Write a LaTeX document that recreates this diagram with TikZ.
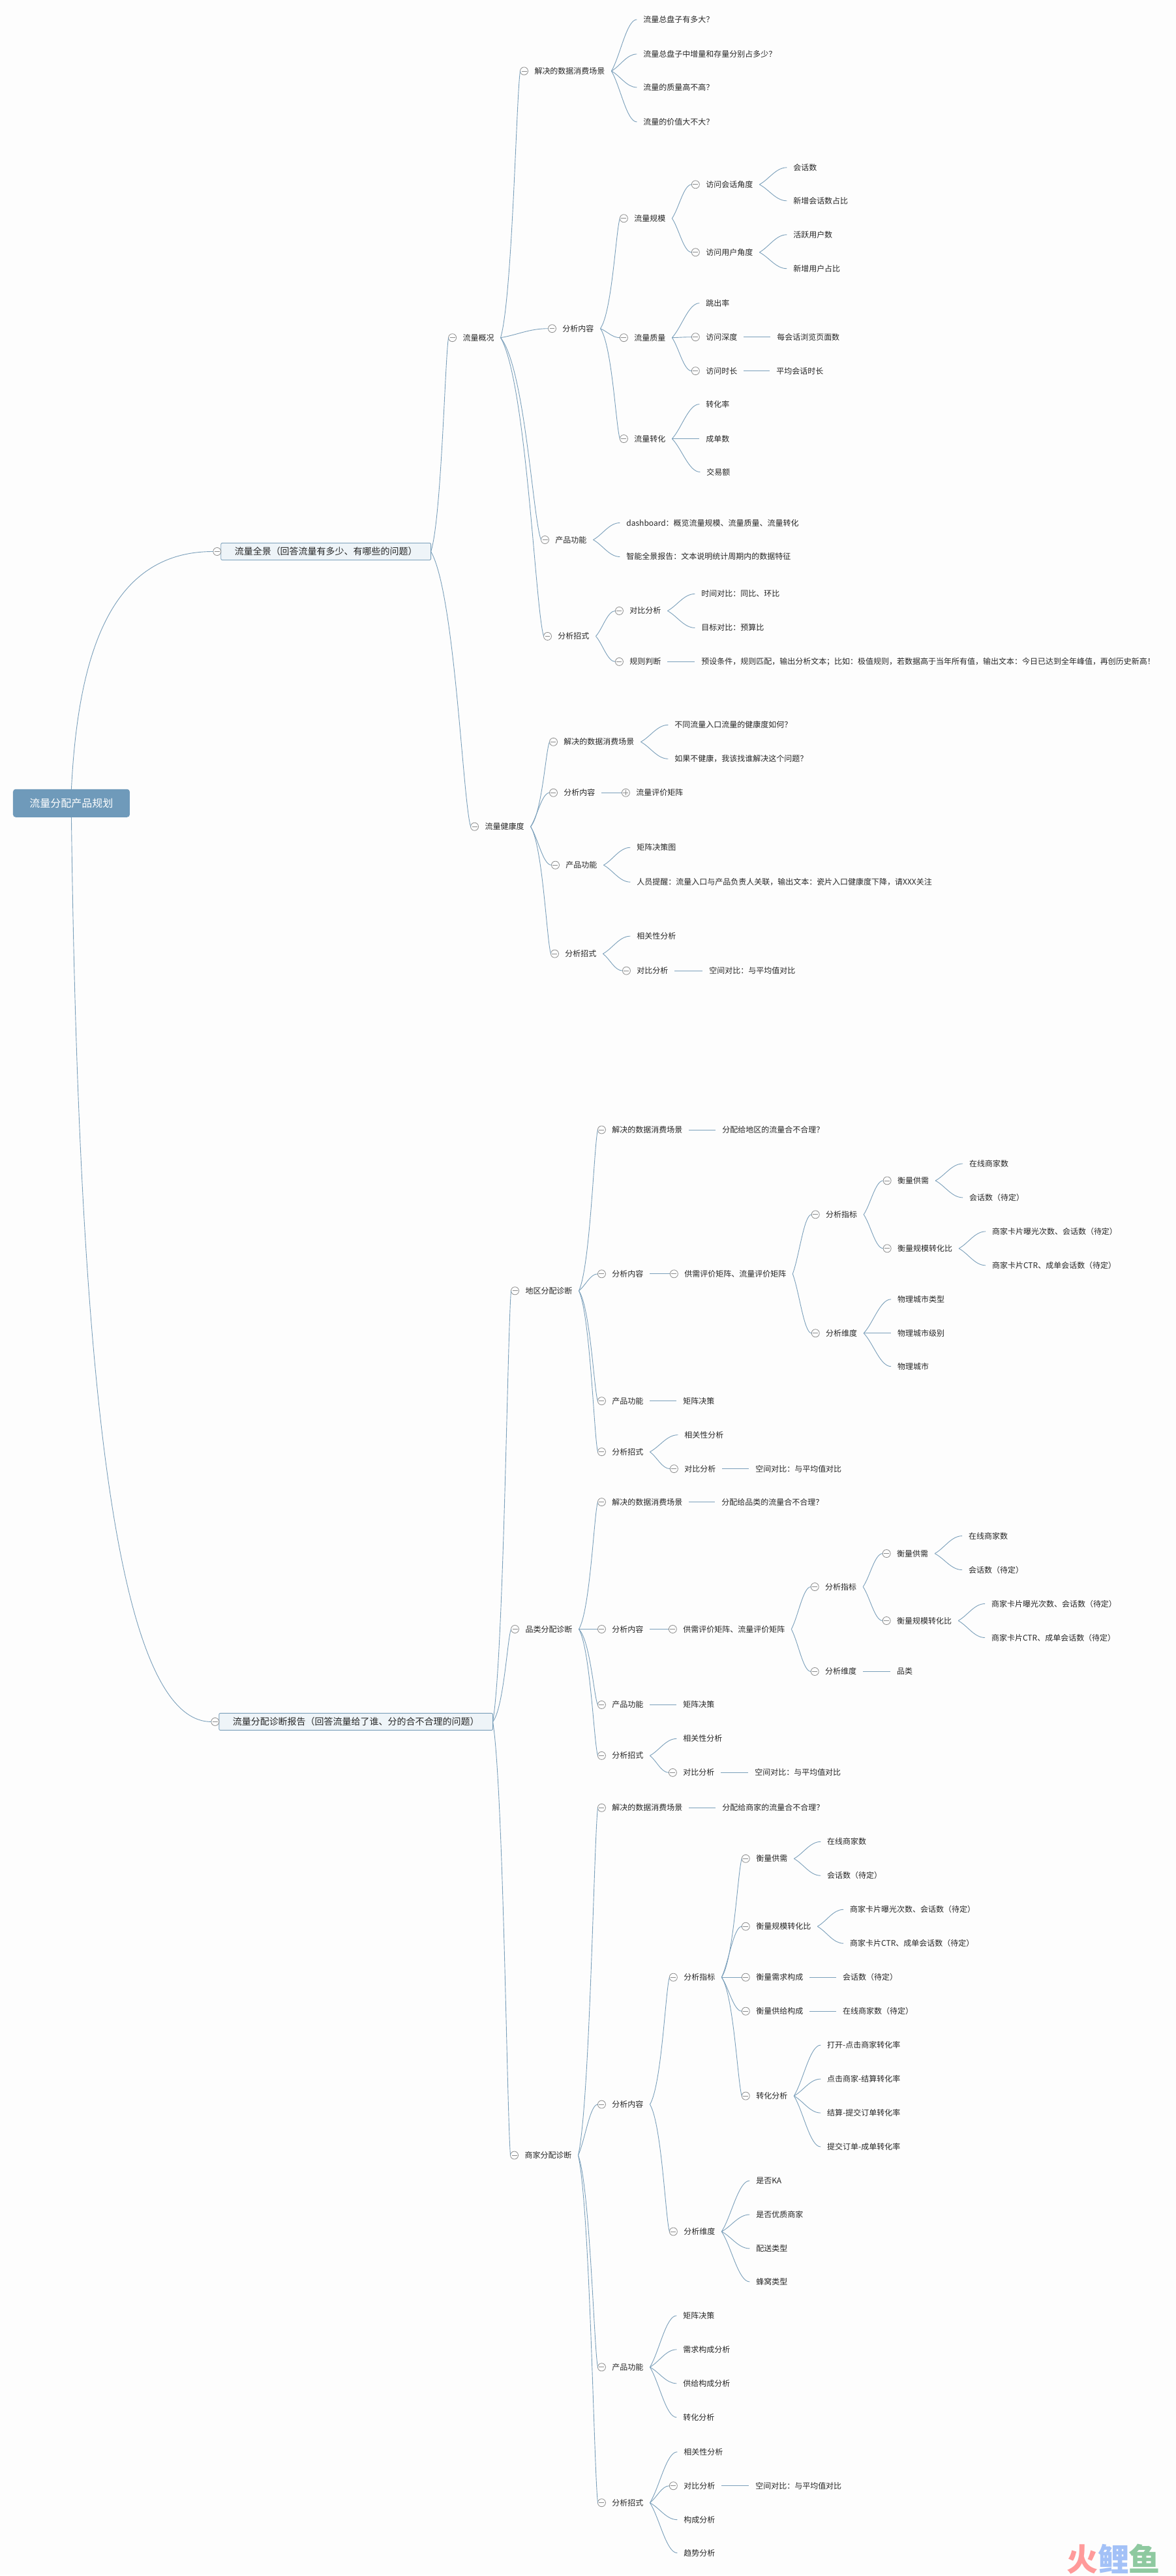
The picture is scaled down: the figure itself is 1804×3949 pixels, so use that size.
\documentclass[tikz,border=0pt]{standalone}
\usepackage{fontspec}
\setmainfont{Noto Sans CJK SC}
\usepackage{tikz}
\usetikzlibrary{calc, positioning}
\newcommand{\zhq}{\symbol{"FF1F}}
\newcommand{\zhc}{\symbol{"FF0C}}
\newcommand{\zhd}{\symbol{"FF1A}}
\newcommand{\zhs}{\symbol{"FF1B}}
\newcommand{\zhe}{\symbol{"FF01}}
\newcommand{\zhl}{\symbol{"FF08}}
\newcommand{\zhr}{\symbol{"FF09}}
\definecolor{pagebg}{HTML}{FDFDFD}
\definecolor{linkblue}{HTML}{7A9FBA}
\definecolor{rootblue}{HTML}{6F9ABA}
\definecolor{boxfill}{HTML}{EEF4F8}
\definecolor{inkgrey}{HTML}{262626}
\definecolor{foldgrey}{HTML}{8C8C8C}
\definecolor{logored}{HTML}{FF9A9A}
\definecolor{logoblue}{HTML}{A3C1F7}
\definecolor{logogreen}{HTML}{8EC9A0}

\begin{document}
\begin{tikzpicture}[x=1pt, y=-1pt, outer sep=0pt]

\tikzstyle{topic}=[anchor=west,inner xsep=10pt,inner ysep=0pt,text=inkgrey,font=\fontsize{12}{12}\selectfont,text height=10.5pt,text depth=1.5pt]
\tikzstyle{bigbox}=[topic,draw=linkblue,fill=boxfill,rounded corners=2pt,inner xsep=21pt,inner ysep=6pt,font=\fontsize{14}{14}\selectfont,text height=12.2pt,text depth=1.8pt,line width=.9pt]
\tikzstyle{rootbox}=[anchor=west,fill=rootblue,rounded corners=4pt,text=white,minimum width=179pt,minimum height=43pt,inner sep=0pt,font=\fontsize{16}{16}\selectfont]
\tikzstyle{fold}=[circle,draw=foldgrey,fill=pagebg,minimum size=12pt,inner sep=0pt,line width=.8pt,path picture={\draw[foldgrey] ([xshift=2pt]path picture bounding box.west)--([xshift=-2pt]path picture bounding box.east);}]
\tikzstyle{foldplus}=[fold,path picture={\draw[foldgrey] ([xshift=2pt]path picture bounding box.west)--([xshift=-2pt]path picture bounding box.east);\draw[foldgrey] ([yshift=-2pt]path picture bounding box.north)--([yshift=2pt]path picture bounding box.south);}]
\tikzset{bendlink/.style n args={4}{draw=linkblue,line width=.9pt,to path={let \p1=(\tikztostart), \p2=($(\tikztotarget)-(\tikztostart)$) in .. controls ($(\p1)+(#1*\x2,#2*\y2)$) and ($(\p1)+(#3*\x2,#4*\y2)$) .. (\tikztotarget)}}}
\tikzstyle{link}=[bendlink={.35}{.3}{.6}{1}]
\tikzstyle{longlink}=[bendlink={.6}{.15}{.8}{.9}]
\tikzstyle{rootlink}=[bendlink={.05}{.6}{.3}{1}]

\fill[pagebg] (0,0) rectangle (1804,3949);

\node[rootbox] (root) at (20,1232) {流量分配产品规划};
\node[bigbox] (whole) at (339,846) {流量全景\zhl{}回答流量有多少、有哪些的问题\zhr{}};
\node[bigbox] (alloc) at (336,2641) {流量分配诊断报告\zhl{}回答流量给了谁、分的合不合理的问题\zhr{}};

\node[topic] (overview) at (700,518) {流量概况};
\node[topic] (ovscene) at (810,109) {解决的数据消费场景};
\node[topic] (ovq1) at (977,30) {流量总盘子有多大\zhq{}};
\node[topic] (ovq2) at (977,83) {流量总盘子中增量和存量分别占多少\zhq{}};
\node[topic] (ovq3) at (977,134) {流量的质量高不高\zhq{}};
\node[topic] (ovq4) at (977,187) {流量的价值大不大\zhq{}};
\node[topic] (ovcontent) at (853,504) {分析内容};
\node[topic] (ovsize) at (963,335) {流量规模};
\node[topic] (ovsess) at (1073,283) {访问会话角度};
\node[topic] (ovsess1) at (1207,257) {会话数};
\node[topic] (ovsess2) at (1207,308) {新增会话数占比};
\node[topic] (ovuser) at (1073,387) {访问用户角度};
\node[topic] (ovuser1) at (1207,360) {活跃用户数};
\node[topic] (ovuser2) at (1207,412) {新增用户占比};
\node[topic] (ovqual) at (963,518) {流量质量};
\node[topic] (ovbounce) at (1073,465) {跳出率};
\node[topic] (ovdepth) at (1073,517) {访问深度};
\node[topic] (ovdepth1) at (1182,517) {每会话浏览页面数};
\node[topic] (ovtime) at (1073,569) {访问时长};
\node[topic] (ovtime1) at (1181,569) {平均会话时长};
\node[topic] (ovconv) at (963,673) {流量转化};
\node[topic] (ovconv1) at (1073,620) {转化率};
\node[topic] (ovconv2) at (1073,673) {成单数};
\node[topic] (ovconv3) at (1074,724) {交易额};
\node[topic] (ovfunc) at (842,828) {产品功能};
\node[topic] (ovfunc1) at (951,802) {dashboard\zhd{}概览流量规模、流量质量、流量转化};
\node[topic] (ovfunc2) at (951,854) {智能全景报告\zhd{}文本说明统计周期内的数据特征};
\node[topic] (ovway) at (846,976) {分析招式};
\node[topic] (ovcomp) at (956,937) {对比分析};
\node[topic] (ovcomp1) at (1066,911) {时间对比\zhd{}同比、环比};
\node[topic] (ovcomp2) at (1066,963) {目标对比\zhd{}预算比};
\node[topic] (ovrule) at (956,1015) {规则判断};
\node[topic] (ovrule1) at (1066,1015) {预设条件\zhc{}规则匹配\zhc{}输出分析文本\zhs{}比如\zhd{}极值规则\zhc{}若数据高于当年所有值\zhc{}输出文本\zhd{}今日已达到全年峰值\zhc{}再创历史新高\zhe{}};

\node[topic] (health) at (734,1268) {流量健康度};
\node[topic] (hlscene) at (855,1138) {解决的数据消费场景};
\node[topic] (hlq1) at (1025,1112) {不同流量入口流量的健康度如何\zhq{}};
\node[topic] (hlq2) at (1025,1164) {如果不健康\zhc{}我该找谁解决这个问题\zhq{}};
\node[topic] (hlcontent) at (855,1216) {分析内容};
\node[topic] (hlmatrix) at (966,1216) {流量评价矩阵};
\node[topic] (hlfunc) at (858,1327) {产品功能};
\node[topic] (hlfunc1) at (967,1300) {矩阵决策图};
\node[topic] (hlfunc2) at (967,1353) {人员提醒\zhd{}流量入口与产品负责人关联\zhc{}输出文本\zhd{}瓷片入口健康度下降\zhc{}请XXX关注};
\node[topic] (hlway) at (857,1463) {分析招式};
\node[topic] (hlway1) at (967,1436) {相关性分析};
\node[topic] (hlcomp) at (967,1489) {对比分析};
\node[topic] (hlcomp1) at (1078,1489) {空间对比\zhd{}与平均值对比};

\node[topic] (region) at (796,1980) {地区分配诊断};
\node[topic] (rgscene) at (929,1733) {解决的数据消费场景};
\node[topic] (rgscene1) at (1098,1733) {分配给地区的流量合不合理\zhq{}};
\node[topic] (rgcontent) at (929,1954) {分析内容};
\node[topic] (rgmatrix) at (1040,1954) {供需评价矩阵、流量评价矩阵};
\node[topic] (rgindex) at (1257,1863) {分析指标};
\node[topic] (rgsupply) at (1367,1811) {衡量供需};
\node[topic] (rgsupply1) at (1477,1785) {在线商家数};
\node[topic] (rgsupply2) at (1477,1837) {会话数\zhl{}待定\zhr{}};
\node[topic] (rgscale) at (1367,1915) {衡量规模转化比};
\node[topic] (rgscale1) at (1512,1889) {商家卡片曝光次数、会话数\zhl{}待定\zhr{}};
\node[topic] (rgscale2) at (1512,1941) {商家卡片CTR、成单会话数\zhl{}待定\zhr{}};
\node[topic] (rgdim) at (1257,2045) {分析维度};
\node[topic] (rgdim1) at (1367,1993) {物理城市类型};
\node[topic] (rgdim2) at (1367,2045) {物理城市级别};
\node[topic] (rgdim3) at (1367,2096) {物理城市};
\node[topic] (rgfunc) at (929,2149) {产品功能};
\node[topic] (rgfunc1) at (1038,2149) {矩阵决策};
\node[topic] (rgway) at (929,2227) {分析招式};
\node[topic] (rgway1) at (1040,2201) {相关性分析};
\node[topic] (rgcomp) at (1040,2253) {对比分析};
\node[topic] (rgcomp1) at (1149,2253) {空间对比\zhd{}与平均值对比};

\node[topic] (category) at (796,2499) {品类分配诊断};
\node[topic] (ctscene) at (929,2304) {解决的数据消费场景};
\node[topic] (ctscene1) at (1097,2304) {分配给品类的流量合不合理\zhq{}};
\node[topic] (ctcontent) at (929,2499) {分析内容};
\node[topic] (ctmatrix) at (1038,2499) {供需评价矩阵、流量评价矩阵};
\node[topic] (ctindex) at (1256,2434) {分析指标};
\node[topic] (ctsupply) at (1366,2383) {衡量供需};
\node[topic] (ctsupply1) at (1476,2356) {在线商家数};
\node[topic] (ctsupply2) at (1476,2408) {会话数\zhl{}待定\zhr{}};
\node[topic] (ctscale) at (1366,2486) {衡量规模转化比};
\node[topic] (ctscale1) at (1511,2460) {商家卡片曝光次数、会话数\zhl{}待定\zhr{}};
\node[topic] (ctscale2) at (1511,2512) {商家卡片CTR、成单会话数\zhl{}待定\zhr{}};
\node[topic] (ctdim) at (1256,2564) {分析维度};
\node[topic] (ctdim1) at (1366,2564) {品类};
\node[topic] (ctfunc) at (929,2615) {产品功能};
\node[topic] (ctfunc1) at (1038,2615) {矩阵决策};
\node[topic] (ctway) at (929,2693) {分析招式};
\node[topic] (ctway1) at (1038,2667) {相关性分析};
\node[topic] (ctcomp) at (1038,2719) {对比分析};
\node[topic] (ctcomp1) at (1148,2719) {空间对比\zhd{}与平均值对比};

\node[topic] (merchant) at (795,3306) {商家分配诊断};
\node[topic] (mcscene) at (929,2773) {解决的数据消费场景};
\node[topic] (mcscene1) at (1098,2773) {分配给商家的流量合不合理\zhq{}};
\node[topic] (mccontent) at (929,3228) {分析内容};
\node[topic] (mcindex) at (1039,3033) {分析指标};
\node[topic] (mcsupply) at (1150,2851) {衡量供需};
\node[topic] (mcsupply1) at (1259,2825) {在线商家数};
\node[topic] (mcsupply2) at (1259,2877) {会话数\zhl{}待定\zhr{}};
\node[topic] (mcscale) at (1150,2955) {衡量规模转化比};
\node[topic] (mcscale1) at (1294,2929) {商家卡片曝光次数、会话数\zhl{}待定\zhr{}};
\node[topic] (mcscale2) at (1294,2981) {商家卡片CTR、成单会话数\zhl{}待定\zhr{}};
\node[topic] (mcdemand) at (1150,3033) {衡量需求构成};
\node[topic] (mcdemand1) at (1283,3033) {会话数\zhl{}待定\zhr{}};
\node[topic] (mcprovide) at (1150,3085) {衡量供给构成};
\node[topic] (mcprovide1) at (1283,3085) {在线商家数\zhl{}待定\zhr{}};
\node[topic] (mcconv) at (1150,3215) {转化分析};
\node[topic] (mcconv1) at (1259,3137) {打开-点击商家转化率};
\node[topic] (mcconv2) at (1259,3189) {点击商家-结算转化率};
\node[topic] (mcconv3) at (1259,3241) {结算-提交订单转化率};
\node[topic] (mcconv4) at (1259,3293) {提交订单-成单转化率};
\node[topic] (mcdim) at (1039,3423) {分析维度};
\node[topic] (mcdim1) at (1150,3345) {是否KA};
\node[topic] (mcdim2) at (1150,3397) {是否优质商家};
\node[topic] (mcdim3) at (1150,3449) {配送类型};
\node[topic] (mcdim4) at (1150,3500) {蜂窝类型};
\node[topic] (mcfunc) at (929,3631) {产品功能};
\node[topic] (mcfunc1) at (1038,3552) {矩阵决策};
\node[topic] (mcfunc2) at (1038,3604) {需求构成分析};
\node[topic] (mcfunc3) at (1038,3656) {供给构成分析};
\node[topic] (mcfunc4) at (1038,3708) {转化分析};
\node[topic] (mcway) at (929,3839) {分析招式};
\node[topic] (mcway1) at (1039,3761) {相关性分析};
\node[topic] (mccomp) at (1039,3813) {对比分析};
\node[topic] (mccomp1) at (1149,3813) {空间对比\zhd{}与平均值对比};
\node[topic] (mcway3) at (1039,3865) {构成分析};
\node[topic] (mcway4) at (1039,3916) {趋势分析};

\node[font=\fontsize{48}{48}\selectfont\bfseries] (logo) at (1708,3925) {\textcolor{logored}{火}\textcolor{logoblue}{鲤}\textcolor{logogreen}{鱼}};

\foreach \n in {whole,alloc,overview,ovscene,ovcontent,ovsize,ovsess,ovuser,ovqual,ovdepth,ovtime,ovconv,ovfunc,ovway,ovcomp,ovrule,
  health,hlscene,hlcontent,hlfunc,hlway,hlcomp,
  region,rgscene,rgcontent,rgmatrix,rgindex,rgsupply,rgscale,rgdim,rgfunc,rgway,rgcomp,
  category,ctscene,ctcontent,ctmatrix,ctindex,ctsupply,ctscale,ctdim,ctfunc,ctway,ctcomp,
  merchant,mcscene,mccontent,mcindex,mcsupply,mcscale,mcdemand,mcprovide,mcconv,mcdim,mcfunc,mcway,mccomp}
  \node[fold,left=0pt of \n] (\n-f) {};
\node[foldplus,left=0pt of hlmatrix] (hlmatrix-f) {};

\draw[rootlink] (root.north) to (whole-f.west);
\draw[rootlink] (root.south) to (alloc-f.west);

\foreach \a/\b in {whole/overview-f,whole/health-f,overview/ovscene-f,overview/ovfunc-f,overview/ovway-f,
  ovcontent/ovsize-f,ovcontent/ovconv-f,health/hlscene-f,health/hlway-f,
  alloc/region-f,alloc/category-f,alloc/merchant-f,
  region/rgscene-f,region/rgfunc-f,region/rgway-f,category/ctscene-f,category/ctfunc-f,category/ctway-f,
  merchant/mcscene-f,merchant/mcfunc-f,merchant/mcway-f,mccontent/mcindex-f,mccontent/mcdim-f,mcindex/mcsupply-f,mcindex/mcconv-f}
  \draw[longlink] (\a.east) to (\b.west);

\foreach \a/\b in {overview/ovcontent-f,ovscene/ovq1,ovscene/ovq2,ovscene/ovq3,ovscene/ovq4,ovcontent/ovqual-f,
  ovsize/ovsess-f,ovsize/ovuser-f,ovsess/ovsess1,ovsess/ovsess2,ovuser/ovuser1,ovuser/ovuser2,
  ovqual/ovbounce,ovqual/ovdepth-f,ovqual/ovtime-f,ovdepth/ovdepth1,ovtime/ovtime1,
  ovconv/ovconv1,ovconv/ovconv2,ovconv/ovconv3,ovfunc/ovfunc1,ovfunc/ovfunc2,
  ovway/ovcomp-f,ovway/ovrule-f,ovcomp/ovcomp1,ovcomp/ovcomp2,ovrule/ovrule1,
  health/hlcontent-f,health/hlfunc-f,hlscene/hlq1,hlscene/hlq2,hlcontent/hlmatrix-f,
  hlfunc/hlfunc1,hlfunc/hlfunc2,hlway/hlway1,hlway/hlcomp-f,hlcomp/hlcomp1,
  region/rgcontent-f,rgscene/rgscene1,rgcontent/rgmatrix-f,rgmatrix/rgindex-f,rgmatrix/rgdim-f,
  rgindex/rgsupply-f,rgindex/rgscale-f,rgsupply/rgsupply1,rgsupply/rgsupply2,rgscale/rgscale1,rgscale/rgscale2,
  rgdim/rgdim1,rgdim/rgdim2,rgdim/rgdim3,rgfunc/rgfunc1,rgway/rgway1,rgway/rgcomp-f,rgcomp/rgcomp1,
  category/ctcontent-f,ctscene/ctscene1,ctcontent/ctmatrix-f,ctmatrix/ctindex-f,ctmatrix/ctdim-f,
  ctindex/ctsupply-f,ctindex/ctscale-f,ctsupply/ctsupply1,ctsupply/ctsupply2,ctscale/ctscale1,ctscale/ctscale2,
  ctdim/ctdim1,ctfunc/ctfunc1,ctway/ctway1,ctway/ctcomp-f,ctcomp/ctcomp1,
  merchant/mccontent-f,mcscene/mcscene1,mcindex/mcscale-f,mcindex/mcdemand-f,mcindex/mcprovide-f,
  mcsupply/mcsupply1,mcsupply/mcsupply2,mcscale/mcscale1,mcscale/mcscale2,mcdemand/mcdemand1,mcprovide/mcprovide1,
  mcconv/mcconv1,mcconv/mcconv2,mcconv/mcconv3,mcconv/mcconv4,mcdim/mcdim1,mcdim/mcdim2,mcdim/mcdim3,mcdim/mcdim4,
  mcfunc/mcfunc1,mcfunc/mcfunc2,mcfunc/mcfunc3,mcfunc/mcfunc4,mcway/mcway1,mcway/mccomp-f,mcway/mcway3,mcway/mcway4,mccomp/mccomp1}
  \draw[link] (\a.east) to (\b.west);
\end{tikzpicture}
\end{document}
